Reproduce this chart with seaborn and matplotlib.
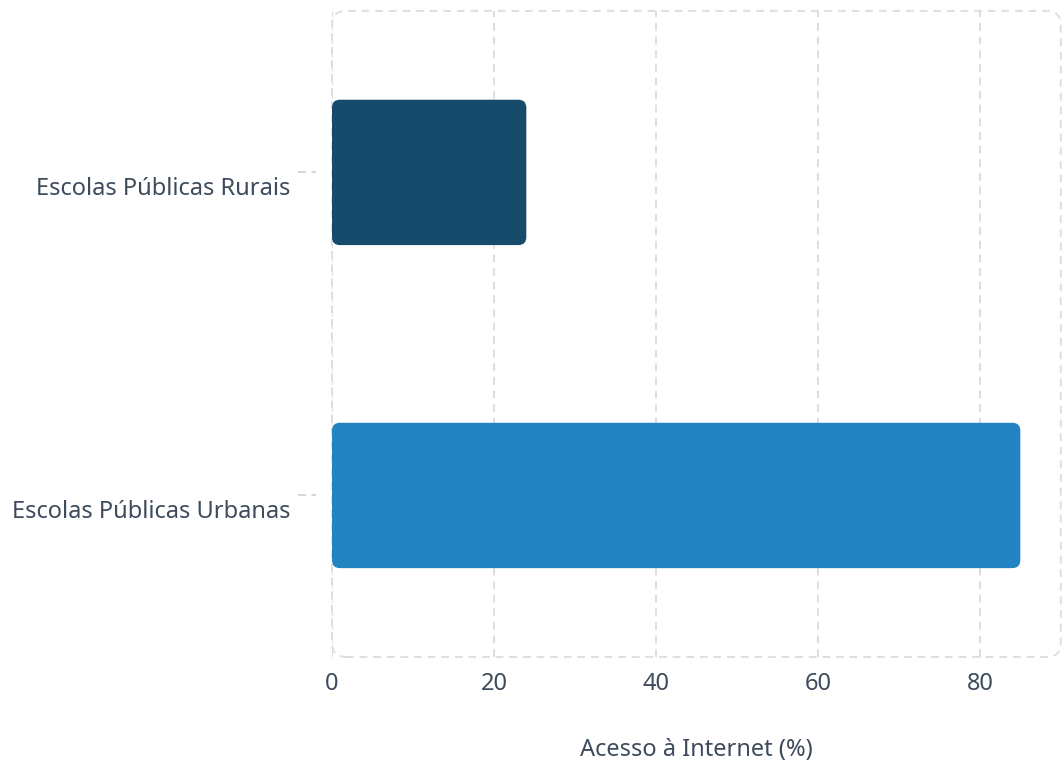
import matplotlib
matplotlib.use("Agg")
import matplotlib.pyplot as plt
import matplotlib.transforms as mtransforms
import seaborn as sns
import pandas as pd
from matplotlib.patches import FancyBboxPatch

# data
categorias = ["Escolas Públicas Rurais", "Escolas Públicas Urbanas"]
acesso = [24, 85]
cores = ["#164b6b", "#2284c1"]

df = pd.DataFrame({"categoria": categorias, "acesso": acesso})

sns.set_theme(style="white")
plt.rcParams['font.family'] = ['Noto Sans', 'DejaVu Sans']
texto = "#3d4b5c"

fig = plt.figure(figsize=(10.64, 7.61), dpi=100)
ax = fig.add_axes([0.312, 0.1367, 0.685, 0.849])

sns.barplot(data=df, x="acesso", y="categoria", hue="categoria", palette=cores,
            width=0.45, legend=False, ax=ax, saturation=1)

ax.set_xlim(0, 90)
ax.set_ylim(1.5, -0.5)

# swap the square bars for rounded ones
fig.canvas.draw()
px_x = ax.get_window_extent().width / 90
px_y = ax.get_window_extent().height / 2
for p in list(ax.patches):
    x0, y0 = p.get_x(), p.get_y()
    w, h = p.get_width(), p.get_height()
    fc = p.get_facecolor()
    p.remove()
    r = 8 / px_x
    ax.add_patch(FancyBboxPatch((x0, y0), w, h,
                                boxstyle=f"round,pad=0,rounding_size={r}",
                                mutation_aspect=px_x / px_y,
                                facecolor=fc, edgecolor="none", zorder=3))

ax.set_xticks([0, 20, 40, 60, 80])
ax.grid(axis="x", color="#dedede", linestyle=(0, (4, 3)), linewidth=1.4, zorder=0)
ax.grid(axis="y", visible=False)
for s in ax.spines.values():
    s.set_visible(False)

# dashed rounded frame around the plot area
bb = ax.get_window_extent()
frame = FancyBboxPatch((0, 0), 1, 1, transform=ax.transAxes,
                       boxstyle=f"round,pad=0,rounding_size={14 / bb.width}",
                       mutation_aspect=bb.width / bb.height,
                       facecolor="none", edgecolor="#dedede",
                       linestyle=(0, (4, 3)), linewidth=1.4, clip_on=False, zorder=1)
ax.add_patch(frame)

# small dashed ticks beside the category labels
trans = ax.get_yaxis_transform()
for yt in ax.get_yticks():
    ax.plot([-0.047, -0.022], [yt, yt], transform=trans, color="#d5d5d5",
            linestyle=(0, (4, 3)), linewidth=1.4, clip_on=False)

ax.tick_params(axis="y", length=0, pad=30, labelsize=17, labelcolor=texto)
ax.tick_params(axis="x", length=0, pad=11, labelsize=17, labelcolor=texto)
# category labels sit a little below their tick
shift = mtransforms.ScaledTranslation(0, -0.14, fig.dpi_scale_trans)
for lab in ax.get_yticklabels():
    lab.set_transform(lab.get_transform() + shift)
ax.set_ylabel("")
ax.set_xlabel("Acesso à Internet (%)", fontsize=17, color=texto, labelpad=30)

fig.savefig("out.png", dpi=100)
